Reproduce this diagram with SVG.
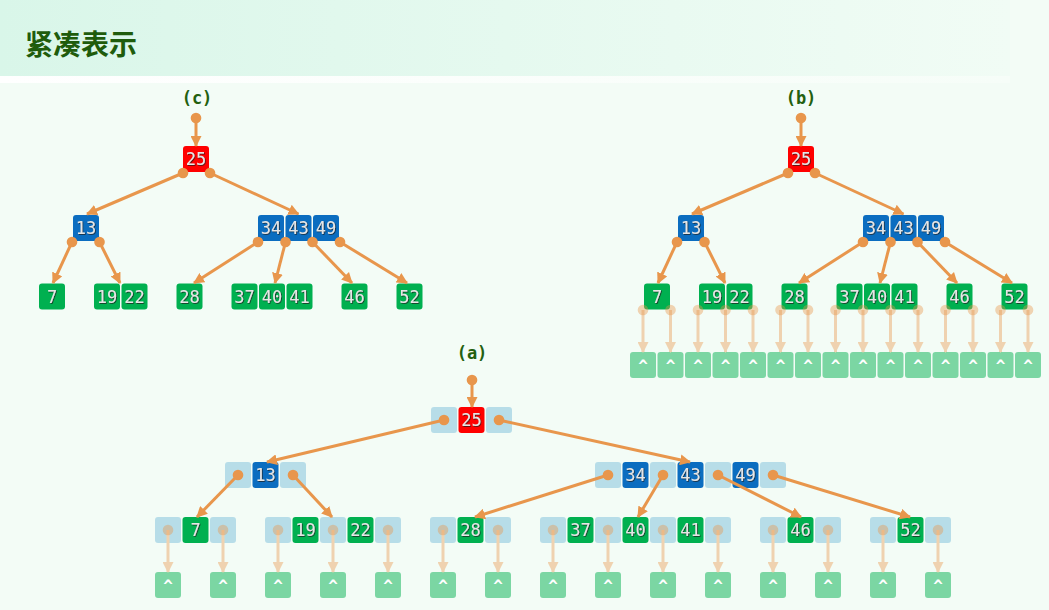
<svg xmlns="http://www.w3.org/2000/svg" width="1049" height="610" viewBox="0 0 1049 610">
  <defs>
    <linearGradient id="band" x1="0" y1="0" x2="1" y2="0">
      <stop offset="0" stop-color="#d9f6e9"/>
      <stop offset="1" stop-color="#f1fcf5"/>
    </linearGradient>
    <linearGradient id="bandEdge" x1="0" y1="0" x2="1" y2="0">
      <stop offset="0" stop-color="#ffffff"/>
      <stop offset="1" stop-color="#f6fdf8"/>
    </linearGradient>
    <filter id="shadow" x="-20%" y="-20%" width="140%" height="140%">
      <feDropShadow dx="0.8" dy="0.8" stdDeviation="0.4" flood-color="#1a1a1a" flood-opacity="0.85"/>
    </filter>
    <marker id="arrow" markerUnits="userSpaceOnUse" markerWidth="11" markerHeight="11" refX="10" refY="5.5" orient="auto">
      <path d="M0,0 L11,5.5 L0,11 z" fill="#e8964c"/>
    </marker>
    <marker id="nullArrow" markerUnits="userSpaceOnUse" markerWidth="11" markerHeight="11" refX="10" refY="5.5" orient="auto">
      <path d="M0,0 L11,5.5 L0,11 z" fill="#efd2b0"/>
    </marker>
    <style>
      .title { font-family: "Noto Sans CJK SC", "Noto Sans", sans-serif; font-weight: bold; font-size: 28px; fill: #1f5c0c; }
      .lbl { font-family: "DejaVu Sans Mono", "Liberation Mono", monospace; font-weight: bold; font-size: 17px; fill: #23600f; text-anchor: middle; }
      .red { fill: #ff0000; }
      .blue { fill: #0b6dc0; }
      .green { fill: #00b050; }
      .slot { fill: #b7dde8; }
      .nil { fill: #7bd6a3; }
      .num { font-family: "DejaVu Sans Mono", "Liberation Mono", monospace; font-size: 17px; fill: #e6e6e6; text-anchor: middle; filter: url(#shadow); }
      .caret { font-family: "DejaVu Sans Mono", "Liberation Mono", monospace; font-weight: bold; font-size: 16px; fill: #ffffff; text-anchor: middle; }
      .edge { stroke: #e8964c; stroke-width: 3; fill: none; marker-end: url(#arrow); }
      .dot { fill: #e8964c; }
      .nedge { stroke: #efd2b0; stroke-width: 3; fill: none; marker-end: url(#nullArrow); }
      .ndot { fill: #e8964c; fill-opacity: 0.4; }
    </style>
  </defs>

  <!-- page background and heading band -->
  <rect x="0" y="0" width="1049" height="610" fill="#f3fcf6"/>
  <rect x="0" y="0" width="1010" height="76" fill="url(#band)"/>
  <rect x="0" y="76" width="1010" height="7" fill="url(#bandEdge)"/>
  <text class="title" x="25" y="55">紧凑表示</text>

  <!-- captions -->
  <text class="lbl" x="197" y="104">(c)</text>
  <text class="lbl" x="801" y="104">(b)</text>
  <text class="lbl" x="472" y="359">(a)</text>

  <!-- ===== tree (c): compact keys only ===== -->
  <g id="c-n25">
    <rect class="red" x="183" y="146" width="26" height="26" rx="3"/>
    <text class="num" x="196" y="165">25</text>
  </g>
  <g id="c-n13">
    <rect class="blue" x="73" y="215" width="26" height="26" rx="3"/>
    <text class="num" x="86" y="234">13</text>
  </g>
  <g id="c-n34-43-49">
    <rect class="blue" x="258" y="215" width="26" height="26" rx="3"/>
    <rect class="blue" x="285.5" y="215" width="26" height="26" rx="3"/>
    <rect class="blue" x="313" y="215" width="26" height="26" rx="3"/>
    <text class="num" x="271" y="234">34</text>
    <text class="num" x="298.5" y="234">43</text>
    <text class="num" x="326" y="234">49</text>
  </g>
  <g id="c-n7">
    <rect class="green" x="39" y="283.5" width="26" height="26" rx="3"/>
    <text class="num" x="52" y="302.5">7</text>
  </g>
  <g id="c-n19-22">
    <rect class="green" x="94" y="283.5" width="26" height="26" rx="3"/>
    <rect class="green" x="121.5" y="283.5" width="26" height="26" rx="3"/>
    <text class="num" x="107" y="302.5">19</text>
    <text class="num" x="134.5" y="302.5">22</text>
  </g>
  <g id="c-n28">
    <rect class="green" x="176.5" y="283.5" width="26" height="26" rx="3"/>
    <text class="num" x="189.5" y="302.5">28</text>
  </g>
  <g id="c-n37-40-41">
    <rect class="green" x="231.5" y="283.5" width="26" height="26" rx="3"/>
    <rect class="green" x="259" y="283.5" width="26" height="26" rx="3"/>
    <rect class="green" x="286.5" y="283.5" width="26" height="26" rx="3"/>
    <text class="num" x="244.5" y="302.5">37</text>
    <text class="num" x="272" y="302.5">40</text>
    <text class="num" x="299.5" y="302.5">41</text>
  </g>
  <g id="c-n46">
    <rect class="green" x="341.5" y="283.5" width="26" height="26" rx="3"/>
    <text class="num" x="354.5" y="302.5">46</text>
  </g>
  <g id="c-n52">
    <rect class="green" x="396.5" y="283.5" width="26" height="26" rx="3"/>
    <text class="num" x="409.5" y="302.5">52</text>
  </g>

  <!-- ===== tree (b): keys plus null leaves ===== -->
  <g id="b-n25">
    <rect class="red" x="788" y="146" width="26" height="26" rx="3"/>
    <text class="num" x="801" y="165">25</text>
  </g>
  <g id="b-n13">
    <rect class="blue" x="678" y="215" width="26" height="26" rx="3"/>
    <text class="num" x="691" y="234">13</text>
  </g>
  <g id="b-n34-43-49">
    <rect class="blue" x="863" y="215" width="26" height="26" rx="3"/>
    <rect class="blue" x="890.5" y="215" width="26" height="26" rx="3"/>
    <rect class="blue" x="918" y="215" width="26" height="26" rx="3"/>
    <text class="num" x="876" y="234">34</text>
    <text class="num" x="903.5" y="234">43</text>
    <text class="num" x="931" y="234">49</text>
  </g>
  <g id="b-n7">
    <rect class="green" x="644" y="283.5" width="26" height="26" rx="3"/>
    <text class="num" x="657" y="302.5">7</text>
  </g>
  <g id="b-n19-22">
    <rect class="green" x="699" y="283.5" width="26" height="26" rx="3"/>
    <rect class="green" x="726.5" y="283.5" width="26" height="26" rx="3"/>
    <text class="num" x="712" y="302.5">19</text>
    <text class="num" x="739.5" y="302.5">22</text>
  </g>
  <g id="b-n28">
    <rect class="green" x="781.5" y="283.5" width="26" height="26" rx="3"/>
    <text class="num" x="794.5" y="302.5">28</text>
  </g>
  <g id="b-n37-40-41">
    <rect class="green" x="836.5" y="283.5" width="26" height="26" rx="3"/>
    <rect class="green" x="864" y="283.5" width="26" height="26" rx="3"/>
    <rect class="green" x="891.5" y="283.5" width="26" height="26" rx="3"/>
    <text class="num" x="849.5" y="302.5">37</text>
    <text class="num" x="877" y="302.5">40</text>
    <text class="num" x="904.5" y="302.5">41</text>
  </g>
  <g id="b-n46">
    <rect class="green" x="946.5" y="283.5" width="26" height="26" rx="3"/>
    <text class="num" x="959.5" y="302.5">46</text>
  </g>
  <g id="b-n52">
    <rect class="green" x="1001.5" y="283.5" width="26" height="26" rx="3"/>
    <text class="num" x="1014.5" y="302.5">52</text>
  </g>
  <g id="b-nulls">
    <rect class="nil" x="630" y="352" width="26" height="26" rx="3"/>
    <rect class="nil" x="657.5" y="352" width="26" height="26" rx="3"/>
    <rect class="nil" x="685" y="352" width="26" height="26" rx="3"/>
    <rect class="nil" x="712.5" y="352" width="26" height="26" rx="3"/>
    <rect class="nil" x="740" y="352" width="26" height="26" rx="3"/>
    <rect class="nil" x="767.5" y="352" width="26" height="26" rx="3"/>
    <rect class="nil" x="795" y="352" width="26" height="26" rx="3"/>
    <rect class="nil" x="822.5" y="352" width="26" height="26" rx="3"/>
    <rect class="nil" x="850" y="352" width="26" height="26" rx="3"/>
    <rect class="nil" x="877.5" y="352" width="26" height="26" rx="3"/>
    <rect class="nil" x="905" y="352" width="26" height="26" rx="3"/>
    <rect class="nil" x="932.5" y="352" width="26" height="26" rx="3"/>
    <rect class="nil" x="960" y="352" width="26" height="26" rx="3"/>
    <rect class="nil" x="987.5" y="352" width="26" height="26" rx="3"/>
    <rect class="nil" x="1015" y="352" width="26" height="26" rx="3"/>
    <text class="caret" x="643" y="371">^</text>
    <text class="caret" x="670.5" y="371">^</text>
    <text class="caret" x="698" y="371">^</text>
    <text class="caret" x="725.5" y="371">^</text>
    <text class="caret" x="753" y="371">^</text>
    <text class="caret" x="780.5" y="371">^</text>
    <text class="caret" x="808" y="371">^</text>
    <text class="caret" x="835.5" y="371">^</text>
    <text class="caret" x="863" y="371">^</text>
    <text class="caret" x="890.5" y="371">^</text>
    <text class="caret" x="918" y="371">^</text>
    <text class="caret" x="945.5" y="371">^</text>
    <text class="caret" x="973" y="371">^</text>
    <text class="caret" x="1000.5" y="371">^</text>
    <text class="caret" x="1028" y="371">^</text>
  </g>

  <!-- ===== tree (a): keys interleaved with pointer slots ===== -->
  <g id="a-n25">
    <rect class="slot" x="431" y="407" width="26" height="26" rx="3"/>
    <rect class="red" x="458.5" y="407" width="26" height="26" rx="3"/>
    <rect class="slot" x="486" y="407" width="26" height="26" rx="3"/>
    <text class="num" x="471.5" y="426">25</text>
  </g>
  <g id="a-n13">
    <rect class="slot" x="225" y="462" width="26" height="26" rx="3"/>
    <rect class="blue" x="252.5" y="462" width="26" height="26" rx="3"/>
    <rect class="slot" x="280" y="462" width="26" height="26" rx="3"/>
    <text class="num" x="265.5" y="481">13</text>
  </g>
  <g id="a-n34-43-49">
    <rect class="slot" x="595" y="462" width="26" height="26" rx="3"/>
    <rect class="blue" x="622.5" y="462" width="26" height="26" rx="3"/>
    <rect class="slot" x="650" y="462" width="26" height="26" rx="3"/>
    <rect class="blue" x="677.5" y="462" width="26" height="26" rx="3"/>
    <rect class="slot" x="705" y="462" width="26" height="26" rx="3"/>
    <rect class="blue" x="732.5" y="462" width="26" height="26" rx="3"/>
    <rect class="slot" x="760" y="462" width="26" height="26" rx="3"/>
    <text class="num" x="635.5" y="481">34</text>
    <text class="num" x="690.5" y="481">43</text>
    <text class="num" x="745.5" y="481">49</text>
  </g>
  <g id="a-n7">
    <rect class="slot" x="155" y="517" width="26" height="26" rx="3"/>
    <rect class="green" x="182.5" y="517" width="26" height="26" rx="3"/>
    <rect class="slot" x="210" y="517" width="26" height="26" rx="3"/>
    <text class="num" x="195.5" y="536">7</text>
  </g>
  <g id="a-n19-22">
    <rect class="slot" x="265" y="517" width="26" height="26" rx="3"/>
    <rect class="green" x="292.5" y="517" width="26" height="26" rx="3"/>
    <rect class="slot" x="320" y="517" width="26" height="26" rx="3"/>
    <rect class="green" x="347.5" y="517" width="26" height="26" rx="3"/>
    <rect class="slot" x="375" y="517" width="26" height="26" rx="3"/>
    <text class="num" x="305.5" y="536">19</text>
    <text class="num" x="360.5" y="536">22</text>
  </g>
  <g id="a-n28">
    <rect class="slot" x="430" y="517" width="26" height="26" rx="3"/>
    <rect class="green" x="457.5" y="517" width="26" height="26" rx="3"/>
    <rect class="slot" x="485" y="517" width="26" height="26" rx="3"/>
    <text class="num" x="470.5" y="536">28</text>
  </g>
  <g id="a-n37-40-41">
    <rect class="slot" x="540" y="517" width="26" height="26" rx="3"/>
    <rect class="green" x="567.5" y="517" width="26" height="26" rx="3"/>
    <rect class="slot" x="595" y="517" width="26" height="26" rx="3"/>
    <rect class="green" x="622.5" y="517" width="26" height="26" rx="3"/>
    <rect class="slot" x="650" y="517" width="26" height="26" rx="3"/>
    <rect class="green" x="677.5" y="517" width="26" height="26" rx="3"/>
    <rect class="slot" x="705" y="517" width="26" height="26" rx="3"/>
    <text class="num" x="580.5" y="536">37</text>
    <text class="num" x="635.5" y="536">40</text>
    <text class="num" x="690.5" y="536">41</text>
  </g>
  <g id="a-n46">
    <rect class="slot" x="760" y="517" width="26" height="26" rx="3"/>
    <rect class="green" x="787.5" y="517" width="26" height="26" rx="3"/>
    <rect class="slot" x="815" y="517" width="26" height="26" rx="3"/>
    <text class="num" x="800.5" y="536">46</text>
  </g>
  <g id="a-n52">
    <rect class="slot" x="870" y="517" width="26" height="26" rx="3"/>
    <rect class="green" x="897.5" y="517" width="26" height="26" rx="3"/>
    <rect class="slot" x="925" y="517" width="26" height="26" rx="3"/>
    <text class="num" x="910.5" y="536">52</text>
  </g>
  <g id="a-nulls">
    <rect class="nil" x="155" y="572" width="26" height="26" rx="3"/>
    <rect class="nil" x="210" y="572" width="26" height="26" rx="3"/>
    <rect class="nil" x="265" y="572" width="26" height="26" rx="3"/>
    <rect class="nil" x="320" y="572" width="26" height="26" rx="3"/>
    <rect class="nil" x="375" y="572" width="26" height="26" rx="3"/>
    <rect class="nil" x="430" y="572" width="26" height="26" rx="3"/>
    <rect class="nil" x="485" y="572" width="26" height="26" rx="3"/>
    <rect class="nil" x="540" y="572" width="26" height="26" rx="3"/>
    <rect class="nil" x="595" y="572" width="26" height="26" rx="3"/>
    <rect class="nil" x="650" y="572" width="26" height="26" rx="3"/>
    <rect class="nil" x="705" y="572" width="26" height="26" rx="3"/>
    <rect class="nil" x="760" y="572" width="26" height="26" rx="3"/>
    <rect class="nil" x="815" y="572" width="26" height="26" rx="3"/>
    <rect class="nil" x="870" y="572" width="26" height="26" rx="3"/>
    <rect class="nil" x="925" y="572" width="26" height="26" rx="3"/>
    <text class="caret" x="168" y="591">^</text>
    <text class="caret" x="223" y="591">^</text>
    <text class="caret" x="278" y="591">^</text>
    <text class="caret" x="333" y="591">^</text>
    <text class="caret" x="388" y="591">^</text>
    <text class="caret" x="443" y="591">^</text>
    <text class="caret" x="498" y="591">^</text>
    <text class="caret" x="553" y="591">^</text>
    <text class="caret" x="608" y="591">^</text>
    <text class="caret" x="663" y="591">^</text>
    <text class="caret" x="718" y="591">^</text>
    <text class="caret" x="773" y="591">^</text>
    <text class="caret" x="828" y="591">^</text>
    <text class="caret" x="883" y="591">^</text>
    <text class="caret" x="938" y="591">^</text>
  </g>

  <!-- ===== connectors ===== -->
  <g id="connectors">
    <!-- (c) child pointers -->
    <line class="edge" x1="196" y1="118" x2="196" y2="146"/>
    <line class="edge" x1="183" y1="173" x2="87" y2="214"/>
    <line class="edge" x1="210" y1="173" x2="298.5" y2="214"/>
    <line class="edge" x1="72" y1="242" x2="53" y2="283"/>
    <line class="edge" x1="99.5" y1="242" x2="120" y2="283"/>
    <line class="edge" x1="258" y1="242" x2="194" y2="283"/>
    <line class="edge" x1="285.5" y1="242" x2="275" y2="283"/>
    <line class="edge" x1="312.5" y1="242" x2="352" y2="283"/>
    <line class="edge" x1="340" y1="242" x2="407" y2="283"/>
    <circle class="dot" cx="196" cy="118" r="5.3"/>
    <circle class="dot" cx="183" cy="173" r="5.3"/>
    <circle class="dot" cx="210" cy="173" r="5.3"/>
    <circle class="dot" cx="72" cy="242" r="5.3"/>
    <circle class="dot" cx="99.5" cy="242" r="5.3"/>
    <circle class="dot" cx="258" cy="242" r="5.3"/>
    <circle class="dot" cx="285.5" cy="242" r="5.3"/>
    <circle class="dot" cx="312.5" cy="242" r="5.3"/>
    <circle class="dot" cx="340" cy="242" r="5.3"/>

    <!-- (b) child pointers -->
    <line class="edge" x1="801" y1="118" x2="801" y2="146"/>
    <line class="edge" x1="788" y1="173" x2="692" y2="214"/>
    <line class="edge" x1="815" y1="173" x2="903.5" y2="214"/>
    <line class="edge" x1="677" y1="242" x2="658" y2="283"/>
    <line class="edge" x1="704.5" y1="242" x2="725" y2="283"/>
    <line class="edge" x1="863" y1="242" x2="799" y2="283"/>
    <line class="edge" x1="890.5" y1="242" x2="880" y2="283"/>
    <line class="edge" x1="917.5" y1="242" x2="957" y2="283"/>
    <line class="edge" x1="945" y1="242" x2="1012" y2="283"/>
    <circle class="dot" cx="801" cy="118" r="5.3"/>
    <circle class="dot" cx="788" cy="173" r="5.3"/>
    <circle class="dot" cx="815" cy="173" r="5.3"/>
    <circle class="dot" cx="677" cy="242" r="5.3"/>
    <circle class="dot" cx="704.5" cy="242" r="5.3"/>
    <circle class="dot" cx="863" cy="242" r="5.3"/>
    <circle class="dot" cx="890.5" cy="242" r="5.3"/>
    <circle class="dot" cx="917.5" cy="242" r="5.3"/>
    <circle class="dot" cx="945" cy="242" r="5.3"/>

    <!-- (b) null pointers -->
    <g>
      <line class="nedge" x1="643" y1="310" x2="643" y2="352"/>
      <line class="nedge" x1="670.5" y1="310" x2="670.5" y2="352"/>
      <line class="nedge" x1="698" y1="310" x2="698" y2="352"/>
      <line class="nedge" x1="725.5" y1="310" x2="725.5" y2="352"/>
      <line class="nedge" x1="753" y1="310" x2="753" y2="352"/>
      <line class="nedge" x1="780.5" y1="310" x2="780.5" y2="352"/>
      <line class="nedge" x1="808" y1="310" x2="808" y2="352"/>
      <line class="nedge" x1="835.5" y1="310" x2="835.5" y2="352"/>
      <line class="nedge" x1="863" y1="310" x2="863" y2="352"/>
      <line class="nedge" x1="890.5" y1="310" x2="890.5" y2="352"/>
      <line class="nedge" x1="918" y1="310" x2="918" y2="352"/>
      <line class="nedge" x1="945.5" y1="310" x2="945.5" y2="352"/>
      <line class="nedge" x1="973" y1="310" x2="973" y2="352"/>
      <line class="nedge" x1="1000.5" y1="310" x2="1000.5" y2="352"/>
      <line class="nedge" x1="1028" y1="310" x2="1028" y2="352"/>
      <circle class="ndot" cx="643" cy="310" r="5.3"/>
      <circle class="ndot" cx="670.5" cy="310" r="5.3"/>
      <circle class="ndot" cx="698" cy="310" r="5.3"/>
      <circle class="ndot" cx="725.5" cy="310" r="5.3"/>
      <circle class="ndot" cx="753" cy="310" r="5.3"/>
      <circle class="ndot" cx="780.5" cy="310" r="5.3"/>
      <circle class="ndot" cx="808" cy="310" r="5.3"/>
      <circle class="ndot" cx="835.5" cy="310" r="5.3"/>
      <circle class="ndot" cx="863" cy="310" r="5.3"/>
      <circle class="ndot" cx="890.5" cy="310" r="5.3"/>
      <circle class="ndot" cx="918" cy="310" r="5.3"/>
      <circle class="ndot" cx="945.5" cy="310" r="5.3"/>
      <circle class="ndot" cx="973" cy="310" r="5.3"/>
      <circle class="ndot" cx="1000.5" cy="310" r="5.3"/>
      <circle class="ndot" cx="1028" cy="310" r="5.3"/>
    </g>

    <!-- (a) child pointers -->
    <line class="edge" x1="472" y1="380" x2="472" y2="407"/>
    <line class="edge" x1="444" y1="420" x2="267" y2="462"/>
    <line class="edge" x1="499" y1="420" x2="690" y2="462"/>
    <line class="edge" x1="238" y1="475" x2="197" y2="517"/>
    <line class="edge" x1="293" y1="475" x2="332" y2="517"/>
    <line class="edge" x1="608" y1="475" x2="475" y2="517"/>
    <line class="edge" x1="663" y1="475" x2="638" y2="517"/>
    <line class="edge" x1="718" y1="475" x2="801" y2="517"/>
    <line class="edge" x1="773" y1="475" x2="910" y2="517"/>
    <circle class="dot" cx="472" cy="380" r="5.3"/>
    <circle class="dot" cx="444" cy="420" r="5.3"/>
    <circle class="dot" cx="499" cy="420" r="5.3"/>
    <circle class="dot" cx="238" cy="475" r="5.3"/>
    <circle class="dot" cx="293" cy="475" r="5.3"/>
    <circle class="dot" cx="608" cy="475" r="5.3"/>
    <circle class="dot" cx="663" cy="475" r="5.3"/>
    <circle class="dot" cx="718" cy="475" r="5.3"/>
    <circle class="dot" cx="773" cy="475" r="5.3"/>

    <!-- (a) null pointers -->
    <g>
      <line class="nedge" x1="168" y1="530" x2="168" y2="572"/>
      <line class="nedge" x1="223" y1="530" x2="223" y2="572"/>
      <line class="nedge" x1="278" y1="530" x2="278" y2="572"/>
      <line class="nedge" x1="333" y1="530" x2="333" y2="572"/>
      <line class="nedge" x1="388" y1="530" x2="388" y2="572"/>
      <line class="nedge" x1="443" y1="530" x2="443" y2="572"/>
      <line class="nedge" x1="498" y1="530" x2="498" y2="572"/>
      <line class="nedge" x1="553" y1="530" x2="553" y2="572"/>
      <line class="nedge" x1="608" y1="530" x2="608" y2="572"/>
      <line class="nedge" x1="663" y1="530" x2="663" y2="572"/>
      <line class="nedge" x1="718" y1="530" x2="718" y2="572"/>
      <line class="nedge" x1="773" y1="530" x2="773" y2="572"/>
      <line class="nedge" x1="828" y1="530" x2="828" y2="572"/>
      <line class="nedge" x1="883" y1="530" x2="883" y2="572"/>
      <line class="nedge" x1="938" y1="530" x2="938" y2="572"/>
      <circle class="ndot" cx="168" cy="530" r="5.3"/>
      <circle class="ndot" cx="223" cy="530" r="5.3"/>
      <circle class="ndot" cx="278" cy="530" r="5.3"/>
      <circle class="ndot" cx="333" cy="530" r="5.3"/>
      <circle class="ndot" cx="388" cy="530" r="5.3"/>
      <circle class="ndot" cx="443" cy="530" r="5.3"/>
      <circle class="ndot" cx="498" cy="530" r="5.3"/>
      <circle class="ndot" cx="553" cy="530" r="5.3"/>
      <circle class="ndot" cx="608" cy="530" r="5.3"/>
      <circle class="ndot" cx="663" cy="530" r="5.3"/>
      <circle class="ndot" cx="718" cy="530" r="5.3"/>
      <circle class="ndot" cx="773" cy="530" r="5.3"/>
      <circle class="ndot" cx="828" cy="530" r="5.3"/>
      <circle class="ndot" cx="883" cy="530" r="5.3"/>
      <circle class="ndot" cx="938" cy="530" r="5.3"/>
    </g>
  </g>
</svg>
